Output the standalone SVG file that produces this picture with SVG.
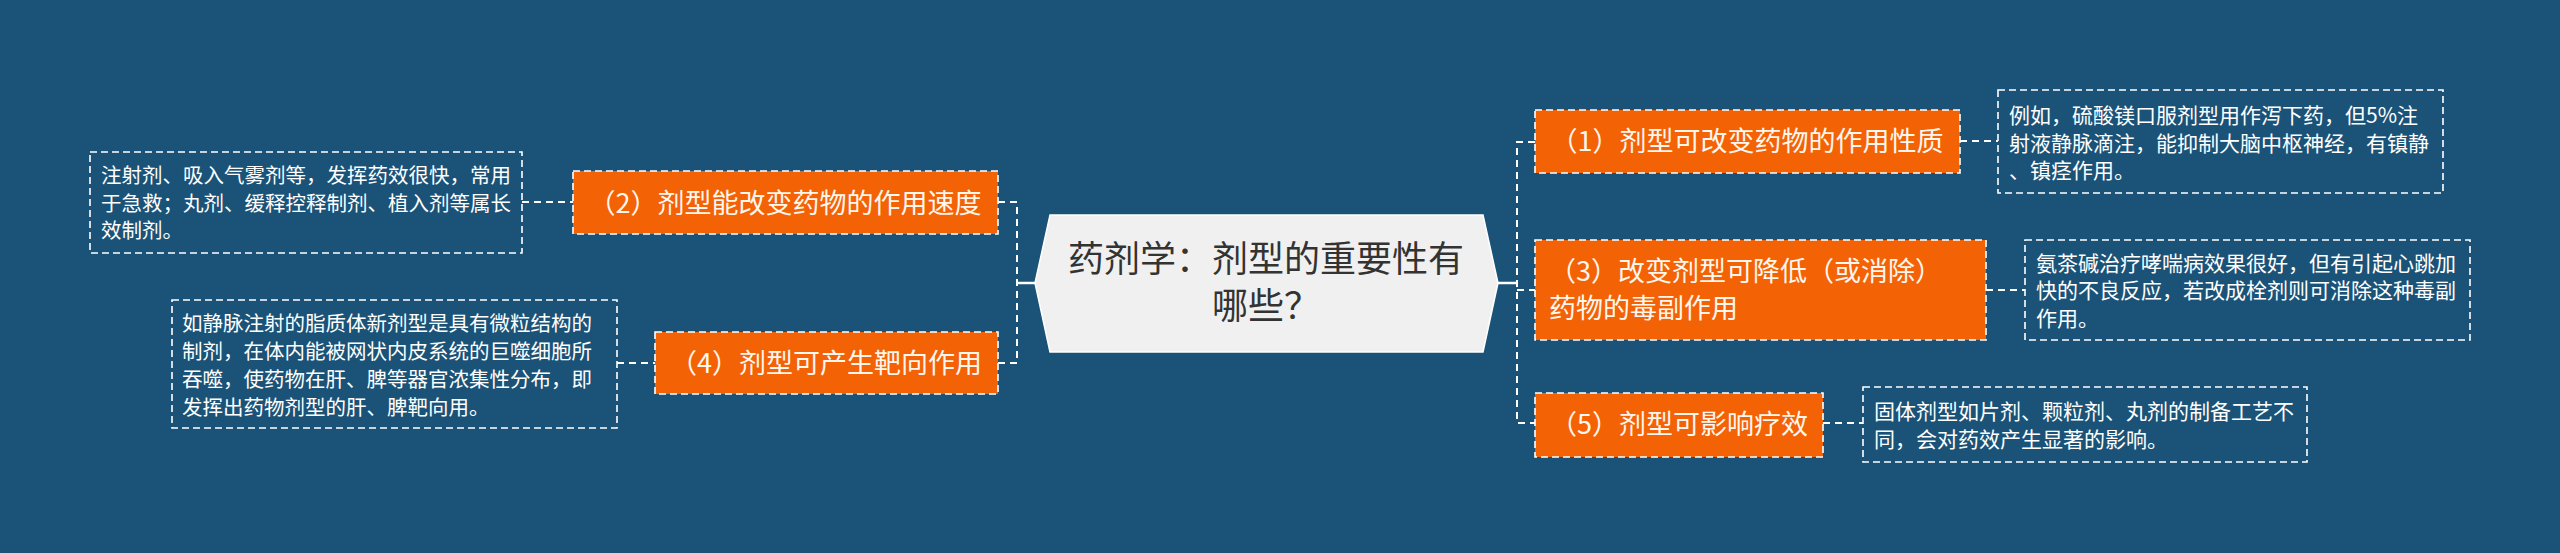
<svg xmlns="http://www.w3.org/2000/svg" width="2560" height="553" viewBox="0 0 2560 553">
<style>
.bg{fill:#1b5378}
.conn{fill:none;stroke:#ffffff;stroke-width:2;stroke-dasharray:7 5}
.solid{fill:none;stroke:#ffffff;stroke-width:2.5}
.topic{fill:#f46206;stroke:#ffffff;stroke-width:1.6;stroke-dasharray:7 4}
.detail{fill:none;stroke:#ffffff;stroke-width:1.6;stroke-dasharray:7 4}
.center{fill:#f0f0f0;stroke:#ffffff;stroke-width:1.5}
.ct{font-family:"Noto Sans CJK SC","Noto Sans",sans-serif;font-size:36px;fill:#333333;text-anchor:middle}
.tt{font-family:"Noto Sans CJK SC","Noto Sans",sans-serif;font-size:27px;fill:#fff7ee}
.dt{font-family:"Noto Sans CJK SC","Noto Sans",sans-serif;font-size:21px;fill:#ffffff}
.dl{font-family:"Noto Sans CJK SC","Noto Sans",sans-serif;font-size:20.5px;fill:#ffffff}
</style>
<rect class="bg" x="0" y="0" width="2560" height="553"/>
<g id="connectors">
<path class="solid" d="M1035 283 H1017"/>
<path class="conn" d="M998 202 H1017 V363 H998"/>
<path class="solid" d="M1498 283 H1517"/>
<path class="conn" d="M1535 142 H1517 V423 H1535 M1517 290 H1535"/>
<path class="conn" d="M522 202 H573"/>
<path class="conn" d="M617 363 H655"/>
<path class="conn" d="M1960 141 H1998"/>
<path class="conn" d="M1986 290 H2025"/>
<path class="conn" d="M1823 423 H1863"/>
</g>
<g id="center">
<polygon class="center" points="1050,215 1483,215 1498,283 1483,352 1050,352 1035,283"/>
<text class="ct" x="1266" y="272">药剂学：剂型的重要性有</text>
<text class="ct" x="1266" y="319">哪些？</text>
</g>
<g id="n2">
<rect class="topic" x="573" y="171" width="425" height="63"/>
<text class="tt" x="785" y="213" text-anchor="middle">（2）剂型能改变药物的作用速度</text>
</g>
<g id="n2d">
<rect class="detail" x="90" y="152" width="432" height="101"/>
<text class="dl" x="101" y="183">注射剂、吸入气雾剂等，发挥药效很快，常用</text>
<text class="dl" x="101" y="211">于急救；丸剂、缓释控释制剂、植入剂等属长</text>
<text class="dl" x="101" y="238">效制剂。</text>
</g>
<g id="n4">
<rect class="topic" x="655" y="332" width="343" height="62"/>
<text class="tt" x="826" y="373" text-anchor="middle">（4）剂型可产生靶向作用</text>
</g>
<g id="n4d">
<rect class="detail" x="172" y="300" width="445" height="128"/>
<text class="dl" x="182" y="331">如静脉注射的脂质体新剂型是具有微粒结构的</text>
<text class="dl" x="182" y="359">制剂，在体内能被网状内皮系统的巨噬细胞所</text>
<text class="dl" x="182" y="387">吞噬，使药物在肝、脾等器官浓集性分布，即</text>
<text class="dl" x="182" y="415">发挥出药物剂型的肝、脾靶向用。</text>
</g>
<g id="n1">
<rect class="topic" x="1535" y="110" width="425" height="63"/>
<text class="tt" x="1747" y="151" text-anchor="middle">（1）剂型可改变药物的作用性质</text>
</g>
<g id="n1d">
<rect class="detail" x="1998" y="90" width="445" height="103"/>
<text class="dt" x="2009" y="123">例如，硫酸镁口服剂型用作泻下药，但5%注</text>
<text class="dt" x="2009" y="151">射液静脉滴注，能抑制大脑中枢神经，有镇静</text>
<text class="dt" x="2009" y="178">、镇痉作用。</text>
</g>
<g id="n3">
<rect class="topic" x="1535" y="240" width="451" height="100"/>
<text class="tt" x="1549" y="281">（3）改变剂型可降低（或消除）</text>
<text class="tt" x="1549" y="318">药物的毒副作用</text>
</g>
<g id="n3d">
<rect class="detail" x="2025" y="240" width="445" height="100"/>
<text class="dt" x="2036" y="271">氨茶碱治疗哮喘病效果很好，但有引起心跳加</text>
<text class="dt" x="2036" y="298">快的不良反应，若改成栓剂则可消除这种毒副</text>
<text class="dt" x="2036" y="326">作用。</text>
</g>
<g id="n5">
<rect class="topic" x="1535" y="393" width="288" height="64"/>
<text class="tt" x="1679" y="434" text-anchor="middle">（5）剂型可影响疗效</text>
</g>
<g id="n5d">
<rect class="detail" x="1863" y="387" width="444" height="75"/>
<text class="dt" x="1874" y="419">固体剂型如片剂、颗粒剂、丸剂的制备工艺不</text>
<text class="dt" x="1874" y="447">同，会对药效产生显著的影响。</text>
</g>
</svg>
